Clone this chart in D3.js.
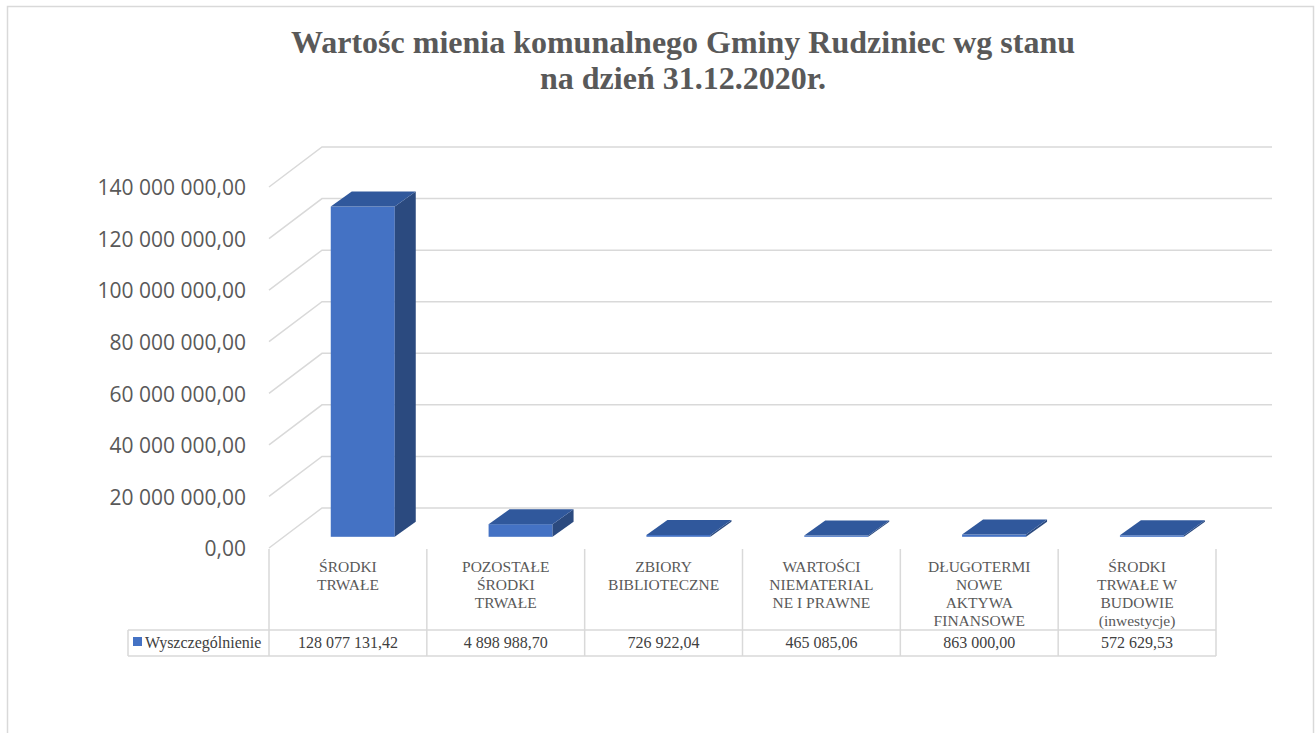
<!DOCTYPE html>
<html lang="pl">
<head>
<meta charset="utf-8">
<title>Wartość mienia komunalnego Gminy Rudziniec</title>
<style>
  body { margin: 0; background: #fff; }
  .tick-label { font-family: "Open Sans", sans-serif; font-size: 21px; fill: #595959; }
  .cat-label { font-family: "Times New Roman", "Liberation Serif", "DejaVu Serif", serif; font-size: 15.5px; fill: #595959; }
  .val-label { font-family: "Times New Roman", "Liberation Serif", "DejaVu Serif", serif; font-size: 16px; fill: #404040; }
  .title { font-family: "Times New Roman", "Liberation Serif", "DejaVu Serif", serif; font-size: 32px; font-weight: bold; fill: #595959; }
</style>
</head>
<body>
<div id="chart"></div>
<script src="https://d3js.org/d3.v7.min.js"></script>
<script>
// data
var categories = [
  "ŚRODKI\nTRWAŁE",
  "POZOSTAŁE\nŚRODKI\nTRWAŁE",
  "ZBIORY\nBIBLIOTECZNE",
  "WARTOŚCI\nNIEMATERIAL\nNE I PRAWNE",
  "DŁUGOTERMI\nNOWE\nAKTYWA\nFINANSOWE",
  "ŚRODKI\nTRWAŁE W\nBUDOWIE\n(inwestycje)"
];
var values = [128077131.42, 4898988.70, 726922.04, 465085.06, 863000.00, 572629.53];
var seriesName = "Wyszczególnienie";
var yTicks = [0, 20000000, 40000000, 60000000, 80000000, 100000000, 120000000, 140000000];
var titleLines = ["Wartośc mienia komunalnego Gminy Rudziniec wg stanu", "na dzień 31.12.2020r."];

// view size and pseudo-3d box
var w_view = 1315, h_view = 733;
var back = {x: 322, y: 508, right: 1272};   // back wall, value 0
var depth = {dx: -53, dy: 40};              // back -> front of the floor
var barT = 0.72;                            // where the bars stand between back (0) and front (1)
var bar = {w: 64, dx: 21, dy: -15};
var table = {left: 128, top: 549, valTop: 630, bottom: 656};

var colors = {front: "#4472C4", top: "#30589C", side: "#2B4A7F", grid: "#D9D9D9"};

var pl = d3.formatLocale({decimal: ",", thousands: " ", grouping: [3], currency: ["", ""]});
var fmt = pl.format(",.2f");

var svg = d3.select("#chart")
            .append("svg")
            .attr("width", w_view)
            .attr("height", h_view);

// chart area border
svg.append("rect")
   .attr("x", 7.5).attr("y", 6.5)
   .attr("width", 1306).attr("height", 760)
   .style("fill", "#fff")
   .style("stroke", colors.grid)
   .style("stroke-width", 1.5);

// title
svg.append("g")
   .selectAll("text")
   .data(titleLines)
   .join("text")
   .attr("class", "title")
   .attr("x", 683)
   .attr("y", (d, i) => 53 + i * 36)
   .attr("text-anchor", "middle")
   .text(d => d);

// scales
var x = d3.scaleBand()
          .domain(categories)
          .range([back.x + depth.dx, 1216]);

var h = d3.scaleLinear()
          .domain([0, 140000000])
          .range([0, 361]);

// gridlines: back wall + left wall diagonal
var grid = svg.append("g")
              .style("stroke", colors.grid)
              .style("stroke-width", 1.5)
              .style("fill", "none");

grid.selectAll("path")
    .data(yTicks)
    .join("path")
    .attr("d", d => {
      var yb = back.y - h(d);
      return "M" + (back.x + depth.dx) + "," + (yb + depth.dy) +
             "L" + back.x + "," + yb + "L" + back.right + "," + yb;
    });

// y tick labels on the front edge
svg.append("g")
   .selectAll("text")
   .data(yTicks)
   .join("text")
   .attr("class", "tick-label")
   .attr("x", 246)
   .attr("y", d => back.y + depth.dy - h(d) + 1)
   .attr("dy", "0.35em")
   .attr("text-anchor", "end")
   .text(d => fmt(d));

// bars
var baseY = back.y + barT * depth.dy;
var shiftX = (1 - barT) * -depth.dx;
function barX(i) { return x(categories[i]) + shiftX + (x.bandwidth() - bar.w) / 2; }

var bars = svg.append("g")
              .selectAll("g")
              .data(values)
              .join("g");

bars.append("rect")
    .attr("x", (d, i) => barX(i))
    .attr("y", d => baseY - h(d))
    .attr("width", bar.w)
    .attr("height", d => h(d))
    .style("fill", colors.front);

bars.append("path")
    .attr("d", (d, i) => {
      var x1 = barX(i) + bar.w, yt = baseY - h(d);
      return "M" + x1 + "," + baseY + "L" + (x1 + bar.dx) + "," + (baseY + bar.dy) +
             "L" + (x1 + bar.dx) + "," + (yt + bar.dy) + "L" + x1 + "," + yt + "Z";
    })
    .style("fill", colors.side);

bars.append("path")
    .attr("d", (d, i) => {
      var x0 = barX(i), yt = baseY - h(d);
      return "M" + x0 + "," + yt + "L" + (x0 + bar.w) + "," + yt +
             "L" + (x0 + bar.w + bar.dx) + "," + (yt + bar.dy) +
             "L" + (x0 + bar.dx) + "," + (yt + bar.dy) + "Z";
    })
    .style("fill", colors.top);

// data table under the chart
var t = svg.append("g")
           .style("stroke", colors.grid)
           .style("stroke-width", 1.5);

var edges = categories.map(c => x(c)).concat([x.range()[1]]);
t.selectAll("line.v")
 .data(edges)
 .join("line")
 .attr("class", "v")
 .attr("x1", d => d).attr("x2", d => d)
 .attr("y1", table.top).attr("y2", table.bottom);

t.append("line")
 .attr("x1", table.left).attr("x2", table.left)
 .attr("y1", table.valTop).attr("y2", table.bottom);

t.selectAll("line.h")
 .data([table.valTop, table.bottom])
 .join("line")
 .attr("class", "h")
 .attr("x1", table.left).attr("x2", x.range()[1])
 .attr("y1", d => d).attr("y2", d => d);

// category names
svg.append("g")
   .selectAll("text")
   .data(categories)
   .join("text")
   .attr("class", "cat-label")
   .attr("text-anchor", "middle")
   .attr("transform", d => "translate(" + (x(d) + x.bandwidth() / 2) + ",572)")
   .selectAll("tspan")
   .data(d => d.split("\n"))
   .join("tspan")
   .attr("x", 0)
   .attr("y", (d, i) => i * 18)
   .text(d => d);

// values row
svg.append("g")
   .selectAll("text")
   .data(values)
   .join("text")
   .attr("class", "val-label")
   .attr("text-anchor", "middle")
   .attr("x", (d, i) => x(categories[i]) + x.bandwidth() / 2)
   .attr("y", 648)
   .text(d => fmt(d));

// legend key
svg.append("rect")
   .attr("x", 133).attr("y", 637)
   .attr("width", 9).attr("height", 9)
   .style("fill", colors.front);

svg.append("text")
   .attr("class", "val-label")
   .attr("x", 145)
   .attr("y", 648)
   .text(seriesName);
</script>
</body>
</html>
